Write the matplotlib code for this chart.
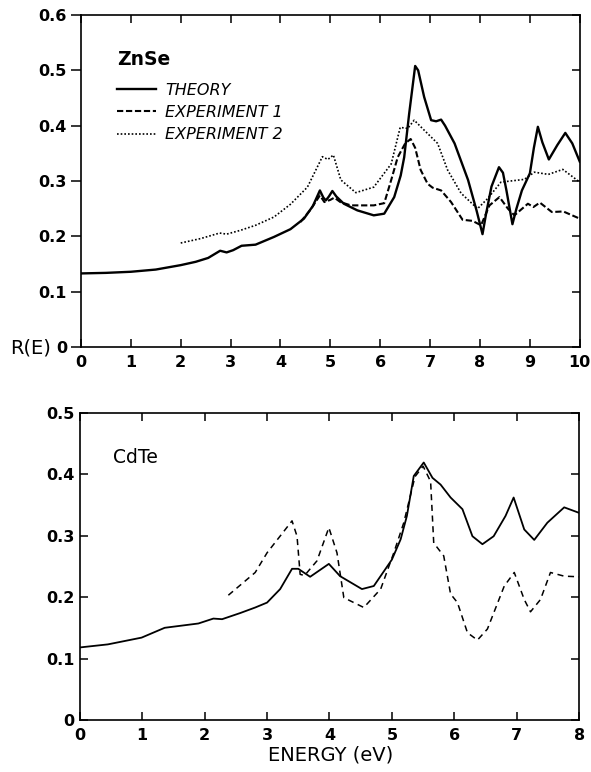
import numpy as np
import matplotlib
matplotlib.use('Agg')
import matplotlib.pyplot as plt
from matplotlib.lines import TICKLEFT

matplotlib.rcParams['font.family'] = 'DejaVu Sans'

# ZnSe panel
znse_theory_e = [0, 0.5, 1.0, 1.5, 2.0, 2.3, 2.55, 2.79, 2.92, 3.05, 3.22, 3.5, 3.87, 4.2, 4.47, 4.65,
                 4.79, 4.86, 4.91, 4.97, 5.04, 5.12, 5.27, 5.54, 5.87, 6.08, 6.28, 6.41, 6.48, 6.58,
                 6.70, 6.76, 6.88, 7.02, 7.12, 7.22, 7.30, 7.49, 7.76, 7.93, 8.05, 8.12, 8.23, 8.38,
                 8.46, 8.53, 8.65, 8.73, 8.84, 9.00, 9.08, 9.16, 9.25, 9.38, 9.55, 9.71, 9.85, 10.0]
znse_theory_r = [0.133, 0.134, 0.136, 0.140, 0.148, 0.154, 0.161, 0.174, 0.171, 0.175, 0.183, 0.185,
                 0.199, 0.213, 0.232, 0.255, 0.283, 0.270, 0.265, 0.272, 0.282, 0.272, 0.259, 0.247,
                 0.238, 0.241, 0.271, 0.310, 0.343, 0.422, 0.508, 0.500, 0.452, 0.410, 0.408, 0.411,
                 0.400, 0.368, 0.302, 0.247, 0.204, 0.240, 0.290, 0.325, 0.315, 0.283, 0.222, 0.250,
                 0.283, 0.314, 0.360, 0.398, 0.370, 0.339, 0.365, 0.387, 0.368, 0.335]

znse_exp1_e = [4.40, 4.60, 4.79, 4.88, 5.00, 5.08, 5.20, 5.41, 5.87, 6.08, 6.22, 6.35, 6.50, 6.61,
               6.70, 6.81, 6.95, 7.05, 7.22, 7.42, 7.65, 7.85, 8.02, 8.19, 8.39, 8.56, 8.69, 8.96,
               9.07, 9.20, 9.44, 9.67, 10.0]
znse_exp1_r = [0.226, 0.248, 0.274, 0.262, 0.266, 0.270, 0.262, 0.256, 0.256, 0.260, 0.302, 0.343,
               0.368, 0.376, 0.360, 0.320, 0.295, 0.288, 0.283, 0.262, 0.230, 0.228, 0.220, 0.256,
               0.271, 0.250, 0.238, 0.259, 0.253, 0.261, 0.244, 0.245, 0.232]

znse_exp2_e = [2.0, 2.4, 2.78, 2.92, 3.2, 3.5, 3.87, 4.2, 4.54, 4.84, 4.95, 5.06, 5.21, 5.51, 5.87,
               6.22, 6.40, 6.55, 6.68, 6.88, 7.15, 7.35, 7.62, 7.95, 8.15, 8.42, 8.89, 9.09, 9.37,
               9.66, 10.0]
znse_exp2_r = [0.188, 0.196, 0.206, 0.204, 0.211, 0.220, 0.235, 0.258, 0.289, 0.344, 0.339, 0.347,
               0.302, 0.279, 0.289, 0.331, 0.397, 0.395, 0.410, 0.392, 0.368, 0.320, 0.278, 0.250,
               0.268, 0.298, 0.303, 0.316, 0.312, 0.321, 0.298]

# CdTe panel
cdte_theory_e = [0, 0.45, 0.99, 1.36, 1.90, 2.14, 2.28, 2.57, 2.81, 3.00, 3.21, 3.40, 3.50, 3.69,
                 3.99, 4.17, 4.52, 4.71, 5.00, 5.14, 5.24, 5.35, 5.51, 5.65, 5.78, 5.94, 6.13, 6.29,
                 6.45, 6.63, 6.82, 6.95, 7.12, 7.28, 7.49, 7.76, 8.0]
cdte_theory_r = [0.118, 0.123, 0.134, 0.150, 0.157, 0.165, 0.164, 0.174, 0.183, 0.191, 0.213, 0.246,
                 0.246, 0.233, 0.254, 0.234, 0.213, 0.218, 0.261, 0.294, 0.332, 0.397, 0.419, 0.394,
                 0.383, 0.362, 0.343, 0.299, 0.286, 0.299, 0.332, 0.362, 0.310, 0.293, 0.321, 0.346,
                 0.337]

cdte_exp_e = [2.38, 2.81, 3.00, 3.40, 3.48, 3.53, 3.60, 3.80, 3.99, 4.12, 4.23, 4.55, 4.82, 5.03,
              5.19, 5.37, 5.50, 5.62, 5.67, 5.83, 5.94, 6.05, 6.21, 6.37, 6.53, 6.80, 6.96, 7.12,
              7.22, 7.38, 7.54, 7.76, 8.0]
cdte_exp_r = [0.203, 0.240, 0.272, 0.324, 0.299, 0.237, 0.235, 0.259, 0.313, 0.272, 0.199, 0.183,
              0.213, 0.272, 0.321, 0.396, 0.413, 0.388, 0.288, 0.267, 0.205, 0.191, 0.142, 0.130,
              0.148, 0.218, 0.240, 0.196, 0.176, 0.196, 0.240, 0.234, 0.233]

fig = plt.figure(figsize=(5.91, 7.72), dpi=100)
ax1 = fig.add_axes([0.137, 0.5505, 0.844, 0.430])
ax2 = fig.add_axes([0.135, 0.0674, 0.845, 0.398])

ax1.plot(znse_theory_e, znse_theory_r, color='black', lw=1.7, label='THEORY')
ax1.plot(znse_exp1_e, znse_exp1_r, color='black', lw=1.5, linestyle=(0, (3, 1.3)), label='EXPERIMENT 1')
ax1.plot(znse_exp2_e, znse_exp2_r, color='black', lw=1.2, linestyle=(0, (1, 1.2)), label='EXPERIMENT 2')

ax2.plot(cdte_theory_e, cdte_theory_r, color='black', lw=1.3)
ax2.plot(cdte_exp_e, cdte_exp_r, color='black', lw=1.1, linestyle=(0, (4, 3)))

ax1.set_xlim(0, 10)
ax1.set_ylim(0, 0.6)
ax1.set_xticks(range(0, 11))
ax1.set_yticks([0, 0.1, 0.2, 0.3, 0.4, 0.5, 0.6])
ax1.set_yticklabels(['0', '0.1', '0.2', '0.3', '0.4', '0.5', '0.6'])

ax2.set_xlim(0, 8)
ax2.set_ylim(0, 0.5)
ax2.set_xticks(range(0, 9))
ax2.set_yticks([0, 0.1, 0.2, 0.3, 0.4, 0.5])
ax2.set_yticklabels(['0', '0.1', '0.2', '0.3', '0.4', '0.5'])

for ax in [ax1, ax2]:
    for s in ax.spines.values():
        s.set_linewidth(1.2)
    ax.tick_params(axis='x', which='both', direction='in', top=True, length=6, width=1.1,
                   pad=6, labelsize=11.5)
    ax.tick_params(axis='y', which='both', direction='in', right=True, length=6, width=1.1,
                   pad=4, labelsize=11.5)
    for lab in ax.get_xticklabels() + ax.get_yticklabels():
        lab.set_fontweight('bold')

# upper panel: left ticks point outward, right ones stay inward
ax1.tick_params(axis='y', which='both', direction='out', length=7, pad=3)
for t in ax1.yaxis.get_major_ticks():
    t.tick2line.set_marker(TICKLEFT)
    t.tick2line.set_markersize(6)

ax1.text(0.072, 0.865, 'ZnSe', transform=ax1.transAxes, fontsize=13.5, fontweight='bold', va='center')
ax2.text(0.066, 0.855, 'CdTe', transform=ax2.transAxes, fontsize=13.5, va='center')

ax1.legend(loc='upper left', bbox_to_anchor=(0.06, 0.815), frameon=False,
           prop={'style': 'italic', 'size': 11.5}, handlelength=2.4, handletextpad=0.6,
           labelspacing=0.45, borderaxespad=0)

fig.text(31 / 591, 1 - 348 / 772, 'R(E)', fontsize=14, ha='center', va='center')
fig.text(331 / 591, 1 - 755 / 772, 'ENERGY (eV)', fontsize=14, ha='center', va='center')

fig.savefig('out.png', dpi=100)
plt.close(fig)
